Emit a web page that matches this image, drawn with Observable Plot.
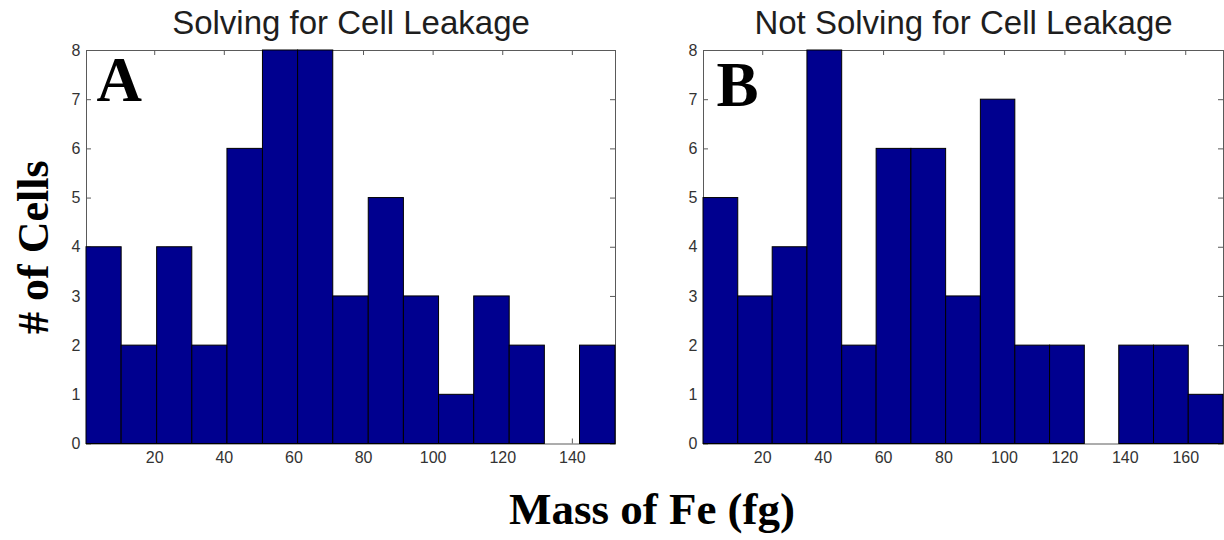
<!DOCTYPE html>
<html>
<head>
<meta charset="utf-8">
<script src="https://cdn.jsdelivr.net/npm/d3@7"></script>
<script src="https://cdn.jsdelivr.net/npm/@observablehq/plot@0.6"></script>
<style>
  html, body { margin: 0; padding: 0; background: #fff; }
  #figure { position: relative; width: 1224px; height: 540px; overflow: hidden; }
  #figure > svg { position: absolute; top: 0; }
  #xlabel {
    position: absolute; left: 652px; top: 487px; transform: translateX(-50%);
    font-family: "Liberation Serif", "Times New Roman", serif; font-weight: bold;
    font-size: 45px; line-height: 45px; color: #000; white-space: nowrap;
  }
</style>
</head>
<body>
<div id="figure"></div>
<script>
// Histogram bin edges (fg) and cell counts per bin
const edgesA = [0.4, 10.5, 20.7, 30.8, 40.9, 51.1, 61.2, 71.3, 81.5, 91.6, 101.7, 111.8, 122.0, 132.1, 142.2, 152.4];
const countsA = [4, 2, 4, 2, 6, 8, 8, 3, 5, 3, 1, 3, 2, 0, 2];
const edgesB = [0.4, 11.9, 23.3, 34.8, 46.3, 57.7, 69.2, 80.7, 92.2, 103.6, 115.1, 126.6, 138.0, 149.5, 161.0, 172.5];
const countsB = [5, 3, 4, 8, 2, 6, 6, 3, 7, 2, 2, 0, 2, 2, 1];

const massTicksA = [20, 40, 60, 80, 100, 120, 140];
const massTicksB = [20, 40, 60, 80, 100, 120, 140, 160];
const countTicks = [0, 1, 2, 3, 4, 5, 6, 7, 8];

const titleA = "Solving for Cell Leakage";
const titleB = "Not Solving for Cell Leakage";
const yLabel = "# of Cells";
const xLabel = "Mass of Fe (fg)";

const sans = "'Liberation Sans', Arial, Helvetica, sans-serif";
const serif = "'Liberation Serif', 'Times New Roman', serif";
const barFill = "#00008f";
const axisGray = "#5a5a5a";
const labelGray = "#333333";

function bins(edges, counts) {
  return counts
    .map((count, i) => ({x1: edges[i], x2: edges[i + 1], count}))
    .filter(d => d.count > 0);
}

function panel({edges, counts, ticks, title, letter, width, height, margins, letterDx, letterDy, extra = []}) {
  const plotW = width - margins.left - margins.right;
  const plotH = height - margins.top - margins.bottom;
  const tick = 5;
  return Plot.plot({
    width, height,
    marginLeft: margins.left, marginRight: margins.right,
    marginTop: margins.top, marginBottom: margins.bottom,
    style: {fontFamily: sans, fontSize: "16px", background: "transparent", overflow: "visible"},
    x: {domain: [edges[0], edges[edges.length - 1]]},
    y: {domain: [0, 8]},
    marks: [
      Plot.frame({stroke: axisGray, strokeWidth: 1}),
      // inward tick marks on all four sides, drawn beneath the bars
      Plot.tickX(ticks, {x: d => d, insetTop: plotH - tick, stroke: axisGray}),
      Plot.tickX(ticks, {x: d => d, insetBottom: plotH - tick, stroke: axisGray}),
      Plot.tickY(countTicks, {y: d => d, insetRight: plotW - tick, stroke: axisGray}),
      Plot.tickY(countTicks, {y: d => d, insetLeft: plotW - tick, stroke: axisGray}),
      Plot.rectY(bins(edges, counts), {x1: "x1", x2: "x2", y: "count", fill: barFill, stroke: "#000", strokeWidth: 1}),
      Plot.axisX({ticks, tickSize: 0, tickPadding: 8, fontSize: 16, fill: labelGray, tickFormat: d => String(d), label: null}),
      Plot.axisY({ticks: countTicks, tickSize: 0, tickPadding: 6, fontSize: 16, fill: labelGray, tickFormat: d => String(d), label: null}),
      Plot.text([title], {frameAnchor: "top", dy: -17, lineAnchor: "bottom", fontSize: 33, fill: "#1e1e1e", fontFamily: sans}),
      Plot.text([letter], {frameAnchor: "top-left", textAnchor: "start", lineAnchor: "bottom", dx: letterDx, dy: letterDy, fontSize: 63, fontWeight: "bold", fontFamily: serif, fill: "#000"}),
      ...extra
    ]
  });
}

const figure = document.getElementById("figure");

const chartA = panel({
  edges: edgesA, counts: countsA, ticks: massTicksA, title: titleA, letter: "A",
  width: 640, height: 480, margins: {left: 86, right: 25, top: 50, bottom: 36.5},
  letterDx: 10, letterDy: 50,
  extra: [
    Plot.text([yLabel], {frameAnchor: "left", rotate: -90, dx: -39, lineAnchor: "bottom", textAnchor: "middle", fontSize: 44, fontWeight: "bold", fontFamily: serif, fill: "#000"})
  ]
});
chartA.style.left = "0px";
figure.appendChild(chartA);

const chartB = panel({
  edges: edgesB, counts: countsB, ticks: massTicksB, title: titleB, letter: "B",
  width: 604, height: 480, margins: {left: 83, right: 1, top: 50, bottom: 36.5},
  letterDx: 13, letterDy: 55
});
chartB.style.left = "620px";
figure.appendChild(chartB);

const xl = document.createElement("div");
xl.id = "xlabel";
xl.textContent = xLabel;
figure.appendChild(xl);
</script>
</body>
</html>
